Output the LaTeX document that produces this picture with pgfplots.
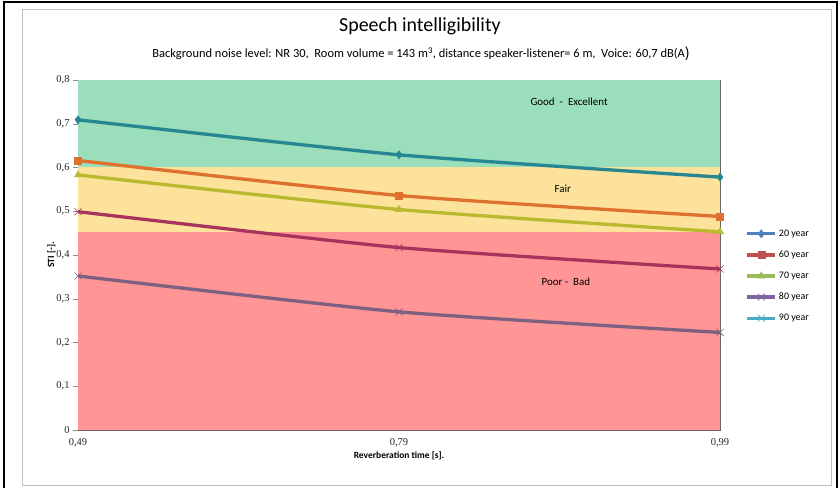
\documentclass[border=0pt]{standalone}
\usepackage{pgfplots}
\pgfplotsset{compat=1.18}
\usepackage{fontspec}
\setmainfont{Carlito}
\newfontfamily\tickfont{Liberation Serif}

\definecolor{bandgreen}{RGB}{155,222,187}
\definecolor{bandyellow}{RGB}{252,226,154}
\definecolor{bandred}{RGB}{255,149,149}
% legend colours
\definecolor{cA}{RGB}{79,129,189}
\definecolor{cB}{RGB}{192,80,77}
\definecolor{cC}{RGB}{155,187,89}
\definecolor{cD}{RGB}{128,100,162}
\definecolor{cE}{RGB}{75,172,198}
% colours as the lines appear over the bands
\definecolor{lA}{RGB}{38,134,146}
\definecolor{lB}{RGB}{222,112,48}
\definecolor{lC}{RGB}{186,186,48}
\definecolor{lD}{RGB}{168,52,94}
\definecolor{lE}{RGB}{126,96,128}

\begin{document}
\begin{tikzpicture}[x=1bp,y=1bp]
\useasboundingbox (0,0) rectangle (840,488);
\fill[white] (0,0) rectangle (840,488);
\draw[black!25, line width=1bp] (22,2) rectangle (831,478);
\draw[black, line width=2.5bp] (4,0) -- (4,486) -- (837,486) -- (837,0);

\node[font=\fontsize{20}{24}\selectfont] at (420,462) {Speech intelligibility};
\node[font=\fontsize{12.5}{15}\selectfont] at (421,434) {Background noise level: NR 30,\ \ Room volume = 143 m\textsuperscript{3}, distance speaker-listener= 6 m,\ \ Voice: 60,7 dB(A\raisebox{-1pt}{\fontsize{16}{16}\selectfont)}};

\begin{axis}[
  at={(78bp,58bp)}, anchor=south west,
  scale only axis, width=642bp, height=350bp,
  xmin=0, xmax=2, ymin=0, ymax=0.8,
  xtick={0,1,2}, xticklabels={{0,49},{0,79},{0,99}},
  ytick={0,0.1,...,0.8},
  yticklabel={\pgfmathprintnumber[use comma]{\tick}},
  /pgf/number format/assume math mode=true,
  tick label style={font=\tickfont\fontsize{10.5}{12}\selectfont, black!85},
  tick align=outside, major tick length=5bp,
  tick style={black!45},
  ytick pos=left,
  xtick style={draw=none},
  ymajorgrids, xmajorgrids,
  y grid style={black!55, opacity=0.45, line width=0.7bp},
  x grid style={black!80, opacity=0.7, line width=0.7bp},
  axis line style={black!60, line width=0.7bp},
  xlabel={\textbf{Reverberation time [s].}},
  ylabel={\textbf{STI [-].}},
  label style={font=\fontsize{9.5}{11}\selectfont},
  xlabel style={yshift=2bp},
  ylabel style={yshift=-6bp},
  legend style={at={(1.035,0.44)}, anchor=west, draw=none, fill=none,
    font=\fontsize{10}{12}\selectfont, row sep=9bp, cells={anchor=west}},
  legend image code/.code={
    \draw[mark repeat=2,mark phase=2,#1] plot coordinates {(0bp,0bp) (14bp,0bp) (28bp,0bp)};},
  series/.style={line width=3.3bp, smooth, tension=0.35, forget plot,
    mark options={solid, line width=0.6bp}},
  limage/.style={line width=3.3bp, mark options={solid, line width=0.6bp}},
]
\addplot[fill=bandgreen, draw=none, forget plot] coordinates {(0,0.6) (2,0.6) (2,0.8) (0,0.8)} --cycle;
\addplot[fill=bandyellow, draw=none, forget plot] coordinates {(0,0.453) (2,0.453) (2,0.6) (0,0.6)} --cycle;
\addplot[fill=bandred, draw=none, forget plot] coordinates {(0,0) (2,0) (2,0.453) (0,0.453)} --cycle;

\node[font=\fontsize{11}{13}\selectfont] at (axis cs:1.53,0.75) {Good\ \ -\ \ Excellent};
\node[font=\fontsize{11}{13}\selectfont] at (axis cs:1.51,0.552) {Fair};
\node[font=\fontsize{11}{13}\selectfont] at (axis cs:1.52,0.34) {Poor -\ \ Bad};

% 20 year
\addplot[lA, series, mark=diamond*, mark size=4bp]
  coordinates {(0,0.709) (1,0.629) (2,0.578)};
% 60 year
\addplot[lB, series, mark=square*, mark size=3.5bp]
  coordinates {(0,0.616) (1,0.536) (2,0.488)};
% 70 year
\addplot[lC, series, mark=triangle*, mark size=4bp]
  coordinates {(0,0.583) (1,0.504) (2,0.453)};
% 80 year
\addplot[lD, series, mark=x, mark size=5bp]
  coordinates {(0,0.499) (1,0.417) (2,0.368)};
% 90 year
\addplot[lE, series, mark=x, mark size=5bp]
  coordinates {(0,0.352) (1,0.270) (2,0.223)};

\addlegendimage{cA, limage, mark=diamond*, mark size=4bp}
\addlegendentry{20 year}
\addlegendimage{cB, limage, mark=square*, mark size=3.5bp}
\addlegendentry{60 year}
\addlegendimage{cC, limage, mark=triangle*, mark size=4bp}
\addlegendentry{70 year}
\addlegendimage{cD, limage, mark=x, mark size=5bp}
\addlegendentry{80 year}
\addlegendimage{cE, limage, mark=x, mark size=5bp}
\addlegendentry{90 year}
\end{axis}
\end{tikzpicture}
\end{document}
